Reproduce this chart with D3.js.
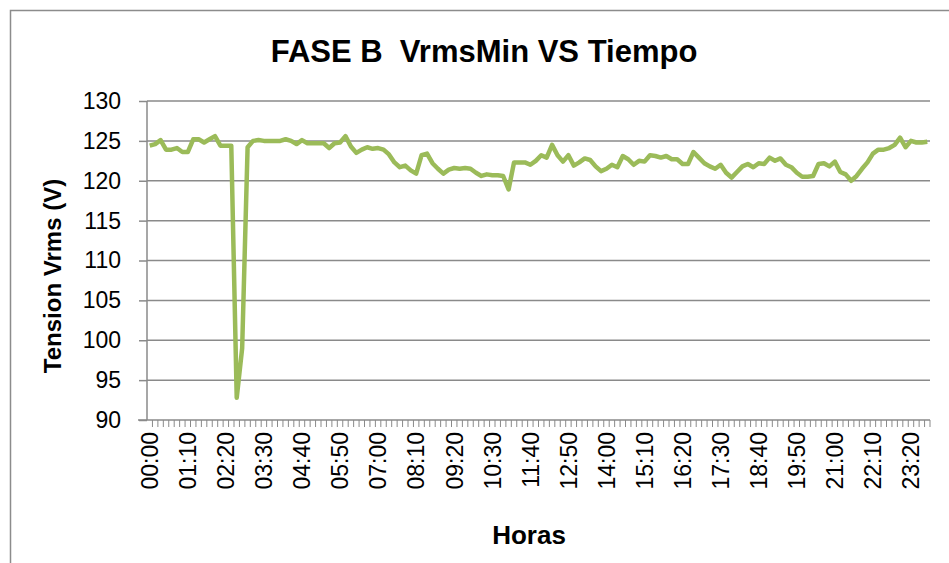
<!DOCTYPE html>
<html>
<head>
<meta charset="utf-8">
<script src="https://cdn.jsdelivr.net/npm/d3@7"></script>
<style>
  body { margin: 0; background: #fff; }
  svg { display: block; font-family: "Liberation Sans", Arial, sans-serif; }
  .title { font-size: 31px; font-weight: bold; white-space: pre; }
  .axis-label { font-weight: bold; }
  .tick text { font-size: 23px; fill: #000; }
</style>
</head>
<body>
<svg width="949" height="563"></svg>
<script>
  // 10-minute samples, 00:00 .. 23:50
  const horas = d3.range(0, 144).map(i => {
    const h = Math.floor(i / 6), m = (i % 6) * 10;
    return String(h).padStart(2, '0') + ':' + String(m).padStart(2, '0');
  });

  const vrmsMin = [
    124.4, 124.6, 125.1, 123.9, 123.9, 124.1, 123.6, 123.6, 125.2, 125.2,
    124.8, 125.2, 125.6, 124.4, 124.4, 124.4, 92.8, 99.0, 124.2, 125.0,
    125.1, 125.0, 125.0, 125.0, 125.0, 125.2, 125.0, 124.6, 125.1, 124.7,
    124.7, 124.7, 124.7, 124.1, 124.7, 124.8, 125.6, 124.3, 123.5, 123.9,
    124.2, 124.0, 124.1, 123.9, 123.3, 122.3, 121.7, 121.9, 121.3, 120.9,
    123.2, 123.4, 122.2, 121.5, 120.9, 121.4, 121.6, 121.5, 121.6, 121.5,
    121.0, 120.6, 120.8, 120.7, 120.7, 120.6, 118.9, 122.3, 122.3, 122.3,
    122.0, 122.5, 123.2, 122.9, 124.5, 123.2, 122.4, 123.2, 121.9, 122.3,
    122.8, 122.6, 121.8, 121.2, 121.5, 122.0, 121.7, 123.1, 122.7, 122.0,
    122.5, 122.4, 123.2, 123.1, 122.9, 123.1, 122.7, 122.7, 122.1, 122.1,
    123.6, 122.9, 122.2, 121.8, 121.5, 122.0, 121.0, 120.4, 121.1, 121.8,
    122.1, 121.7, 122.2, 122.1, 122.9, 122.5, 122.8, 122.0, 121.7, 121.0,
    120.5, 120.5, 120.6, 122.1, 122.2, 121.8, 122.4, 121.1, 120.8, 120.0,
    120.6, 121.5, 122.3, 123.4, 123.9, 123.9, 124.1, 124.5, 125.4, 124.2,
    125.0, 124.8, 124.8, 124.9
  ];

  const yTicks = [90, 95, 100, 105, 110, 115, 120, 125, 130];
  const labelEvery = 7;

  const title = 'FASE B  VrmsMin VS Tiempo';
  const xAxisLabel = 'Horas';
  const yAxisLabel = 'Tension Vrms (V)';

  const svg = d3.select('svg');
  const margin = { top: 101, left: 147, right: 19, bottom: 143 };
  const width = +svg.attr('width');
  const height = +svg.attr('height');
  const innerWidth = width - margin.left - margin.right;
  const innerHeight = height - margin.top - margin.bottom;

  // chart frame (runs off the right and bottom edges, as in the original)
  svg.append('path')
      .attr('d', `M10.5,${height}V10.5H${width}`)
      .attr('fill', 'none')
      .attr('stroke', '#8c8c8c')
      .attr('stroke-width', 1.5);

  svg.append('text')
      .attr('class', 'title')
      .attr('x', 484)
      .attr('y', 62)
      .attr('text-anchor', 'middle')
      .text(title);

  const g = svg.append('g')
      .attr('transform', `translate(${margin.left},${margin.top})`);

  const xScale = d3.scaleBand()
      .domain(horas)
      .range([0, innerWidth]);

  const yScale = d3.scaleLinear()
      .domain([90, 130])
      .range([innerHeight, 0]);

  // gridlines
  g.append('g')
    .selectAll('line').data(yTicks.slice(1))
    .enter().append('line')
      .attr('x1', 0).attr('x2', innerWidth)
      .attr('y1', d => yScale(d)).attr('y2', d => yScale(d))
      .attr('stroke', '#8a8a8a')
      .attr('stroke-width', 1.5);

  const yAxis = d3.axisLeft(yScale)
      .tickValues(yTicks)
      .tickSize(8)
      .tickPadding(18);

  const yAxisG = g.append('g').call(yAxis);
  yAxisG.selectAll('line, path').attr('stroke', '#8a8a8a').attr('stroke-width', 1.5);
  yAxisG.select('.domain').attr('d', `M0,${innerHeight}V0`);

  // x axis: minor ticks at category boundaries
  const xAxisG = g.append('g')
      .attr('transform', `translate(0,${innerHeight})`);
  xAxisG.append('line')
      .attr('x1', -9).attr('x2', innerWidth)
      .attr('stroke', '#8a8a8a').attr('stroke-width', 1.5);
  xAxisG.selectAll('.minor').data(horas)
    .enter().append('line')
      .attr('class', 'minor')
      .attr('x1', d => xScale(d) + xScale.bandwidth())
      .attr('x2', d => xScale(d) + xScale.bandwidth())
      .attr('y1', 0).attr('y2', 7)
      .attr('stroke', '#8a8a8a').attr('stroke-width', 1);

  const xAxis = d3.axisBottom(xScale)
      .tickValues(horas.filter((d, i) => i % labelEvery === 0))
      .tickSize(0)
      .tickPadding(0);
  const xLabelsG = xAxisG.append('g').call(xAxis);
  xLabelsG.select('.domain').remove();
  xLabelsG.selectAll('.tick text')
      .attr('transform', 'rotate(-90)')
      .attr('text-anchor', 'end')
      .attr('x', -12)
      .attr('y', 0)
      .attr('dy', '0.36em');

  const line = d3.line()
      .x((d, i) => xScale(horas[i]) + xScale.bandwidth() / 2)
      .y(d => yScale(d));

  g.append('path')
      .datum(vrmsMin)
      .attr('d', line)
      .attr('fill', 'none')
      .attr('stroke', '#9bbb59')
      .attr('stroke-width', 4.5)
      .attr('stroke-linejoin', 'round');

  svg.append('text')
      .attr('class', 'axis-label')
      .attr('x', 529)
      .attr('y', 544)
      .attr('font-size', 26)
      .attr('text-anchor', 'middle')
      .text(xAxisLabel);

  svg.append('text')
      .attr('class', 'axis-label')
      .attr('font-size', 24)
      .attr('transform', 'translate(61,276) rotate(-90)')
      .attr('text-anchor', 'middle')
      .text(yAxisLabel);
</script>
</body>
</html>
